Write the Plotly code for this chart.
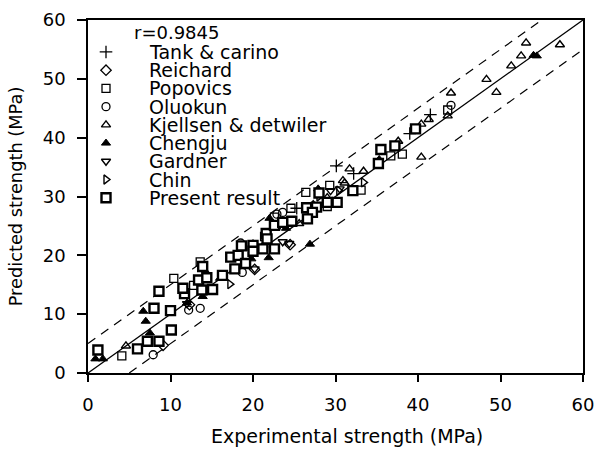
import plotly.graph_objects as go

# ---------------- data ----------------
tank_x = [25.3, 30.1, 32.2, 39.0, 41.5]
tank_y = [28.0, 35.2, 33.9, 40.7, 43.9]

reichard_x = [9.1, 20.2, 24.5, 12.3]
reichard_y = [4.7, 17.6, 21.8, 11.6]

popovics_x = [4.1, 10.4, 13.6, 12.8, 26.4, 29.0, 33.1, 36.7, 38.1, 43.6, 21.4, 22.6, 24.6, 29.3]
popovics_y = [2.9, 16.1, 18.9, 14.9, 30.7, 28.3, 31.1, 36.9, 37.2, 44.7, 23.2, 26.5, 28.0, 31.9]

oluokun_x = [7.9, 12.2, 13.6, 18.7, 18.5, 22.9, 23.6, 44.0, 21.3]
oluokun_y = [3.1, 10.7, 11.0, 17.1, 22.1, 27.0, 27.3, 45.5, 21.4]

kjellsen_x = [4.6, 14.4, 25.6, 29.0, 30.9, 31.7, 31.1, 37.6, 40.4, 41.3, 43.6, 44.0, 40.4,
              48.3, 49.5, 51.3, 52.5, 53.1, 57.2, 27.3, 33.4]
kjellsen_y = [4.6, 16.9, 25.4, 29.8, 32.7, 34.7, 32.3, 39.4, 42.3, 43.1, 43.7, 47.6, 36.7,
              49.9, 47.7, 52.2, 53.9, 56.1, 55.8, 28.6, 34.3]

chengju_x = [0.9, 1.8, 6.7, 7.0, 7.5, 12.0, 13.9, 16.0, 19.8, 20.0, 21.9, 22.0, 24.0, 27.9,
             35.3, 54.4, 54.0, 26.5, 22.8, 26.9]
chengju_y = [2.4, 2.4, 10.5, 8.8, 6.8, 11.9, 13.0, 16.1, 19.4, 22.0, 19.6, 26.3, 24.6, 31.3,
             36.3, 53.9, 54.0, 26.0, 24.8, 21.9]

gardner_x = [12.0, 20.2, 23.6, 24.4, 29.4, 30.5]
gardner_y = [11.8, 17.7, 22.3, 22.0, 31.0, 31.3]

chin_x = [17.2, 30.4, 33.4, 28.0]
chin_y = [15.1, 31.0, 32.4, 30.0]

present_x = [1.2, 6.0, 7.2, 8.6, 8.0, 10.1, 10.0, 8.6, 11.7, 11.5, 13.4, 13.8, 15.1, 13.9,
             14.4, 16.3, 17.3, 18.2, 17.8, 19.1, 18.6, 20.0, 20.0, 21.2, 22.6, 21.6, 21.7,
             22.6, 23.6, 26.5, 27.7, 27.2, 28.0, 29.0, 30.2, 32.1, 35.5, 37.2, 39.7, 35.2,
             26.6, 24.7]
present_y = [3.9, 4.1, 5.4, 5.4, 11.0, 7.3, 10.6, 13.9, 13.5, 14.4, 15.8, 14.1, 14.2, 18.1,
             16.2, 16.6, 19.7, 20.0, 17.7, 18.6, 21.6, 21.7, 20.7, 21.1, 21.1, 23.7, 22.8,
             25.1, 25.6, 28.1, 28.2, 27.3, 30.6, 29.0, 29.0, 31.0, 38.0, 38.6, 41.5, 35.6,
             26.2, 25.8]

line_x = [0, 60]
band_offset = 5
r_text = "r=0.9845"
x_title = "Experimental strength (MPa)"
y_title = "Predicted strength (MPa)"

series = [
    ("Tank & carino", tank_x, tank_y, "cross-thin-open", 9, "black", 1.3),
    ("Reichard", reichard_x, reichard_y, "diamond-open", 8, "black", 1.3),
    ("Popovics", popovics_x, popovics_y, "square-open", 8, "black", 1.3),
    ("Oluokun", oluokun_x, oluokun_y, "circle-open", 8, "black", 1.3),
    ("Kjellsen & detwiler", kjellsen_x, kjellsen_y, "triangle-up-open", 8, "black", 1.4),
    ("Chengju", chengju_x, chengju_y, "triangle-up", 8, "black", 1.0),
    ("Gardner", gardner_x, gardner_y, "triangle-down-open", 8, "black", 1.4),
    ("Chin", chin_x, chin_y, "triangle-right-open", 8, "black", 1.4),
    ("Present result", present_x, present_y, "square", 9, "white", 2.4),
]

FONT = "DejaVu Sans"
fig = go.Figure()


def clip_line(off):
    x0, x1 = line_x
    y0, y1 = x0 + off, x1 + off
    if y0 < 0:
        x0, y0 = x0 - y0, 0
    if y1 > 60:
        x1, y1 = x1 - (y1 - 60), 60
    return [x0, x1], [y0, y1]


lx, ly = clip_line(0)
fig.add_trace(go.Scatter(x=lx, y=ly, mode="lines", line=dict(color="black", width=1.3),
                         showlegend=False, hoverinfo="skip"))
for off in (band_offset, -band_offset):
    lx, ly = clip_line(off)
    fig.add_trace(go.Scatter(x=lx, y=ly, mode="lines",
                             line=dict(color="black", width=1.2, dash="9px,7px"),
                             showlegend=False, hoverinfo="skip"))


def marker_of(sym, size, fill, lw):
    return dict(symbol=sym, size=size,
                color=fill if sym in ("triangle-up", "square") else "black",
                line=dict(color="black", width=lw))


for name, xs, ys, sym, size, fill, lw in series:
    fig.add_trace(go.Scatter(x=xs, y=ys, mode="markers", name=name, showlegend=False,
                             marker=marker_of(sym, size, fill, lw)))

# ---------- manual legend (pixel layout -> paper fractions) ----------
PX0, PX1, PY0, PY1 = 88, 583, 20, 373.5


def fx(px):
    return (px - PX0) / (PX1 - PX0)


def fy(py):
    return (PY1 - py) / (PY1 - PY0)


sym_px, text_px, row0, step = 106, 147, 52, 18.25
for i, (name, xs, ys, sym, size, fill, lw) in enumerate(series):
    yy = fy(row0 + i * step)
    fig.add_trace(go.Scatter(x=[fx(sym_px)], y=[yy], xaxis="x2", yaxis="y2", mode="markers",
                             showlegend=False, hoverinfo="skip",
                             marker=marker_of(sym, size, fill, lw)))
    fig.add_annotation(x=fx(text_px), y=yy, xref="paper", yref="paper", text=name,
                       showarrow=False, xanchor="left", yanchor="middle",
                       font=dict(family=FONT, size=19, color="black"))
fig.add_annotation(x=fx(132), y=fy(33), xref="paper", yref="paper", text=r_text,
                   showarrow=False, xanchor="left", yanchor="middle",
                   font=dict(family=FONT, size=18, color="black"))

# x axis title (slightly right of centre, as in the reference)
fig.add_annotation(x=fx(347), y=fy(437), xref="paper", yref="paper", text=x_title,
                   showarrow=False, xanchor="center", yanchor="middle",
                   font=dict(family=FONT, size=19, color="black"))

axis_common = dict(range=[0, 60], dtick=10, showgrid=False, zeroline=False,
                   showline=True, linecolor="black", linewidth=1.6, mirror=True,
                   ticks="outside", tickcolor="black", tickwidth=1.5, automargin=False,
                   tickfont=dict(family=FONT, size=18, color="black"))

fig.update_layout(
    width=595, height=449,
    margin=dict(l=88, r=12, t=20, b=75.5),
    paper_bgcolor="white", plot_bgcolor="white",
    font=dict(family=FONT, color="black"),
    showlegend=False,
    xaxis=dict(**axis_common, ticklen=7, ticklabelstandoff=8),
    yaxis=dict(**axis_common, ticklen=9, ticklabelstandoff=8,
               title=dict(text=y_title, standoff=15,
                          font=dict(family=FONT, size=17.8, color="black"))),
    xaxis2=dict(overlaying="x", range=[0, 1], visible=False),
    yaxis2=dict(overlaying="y", range=[0, 1], visible=False),
)

fig.write_html("out.html")
